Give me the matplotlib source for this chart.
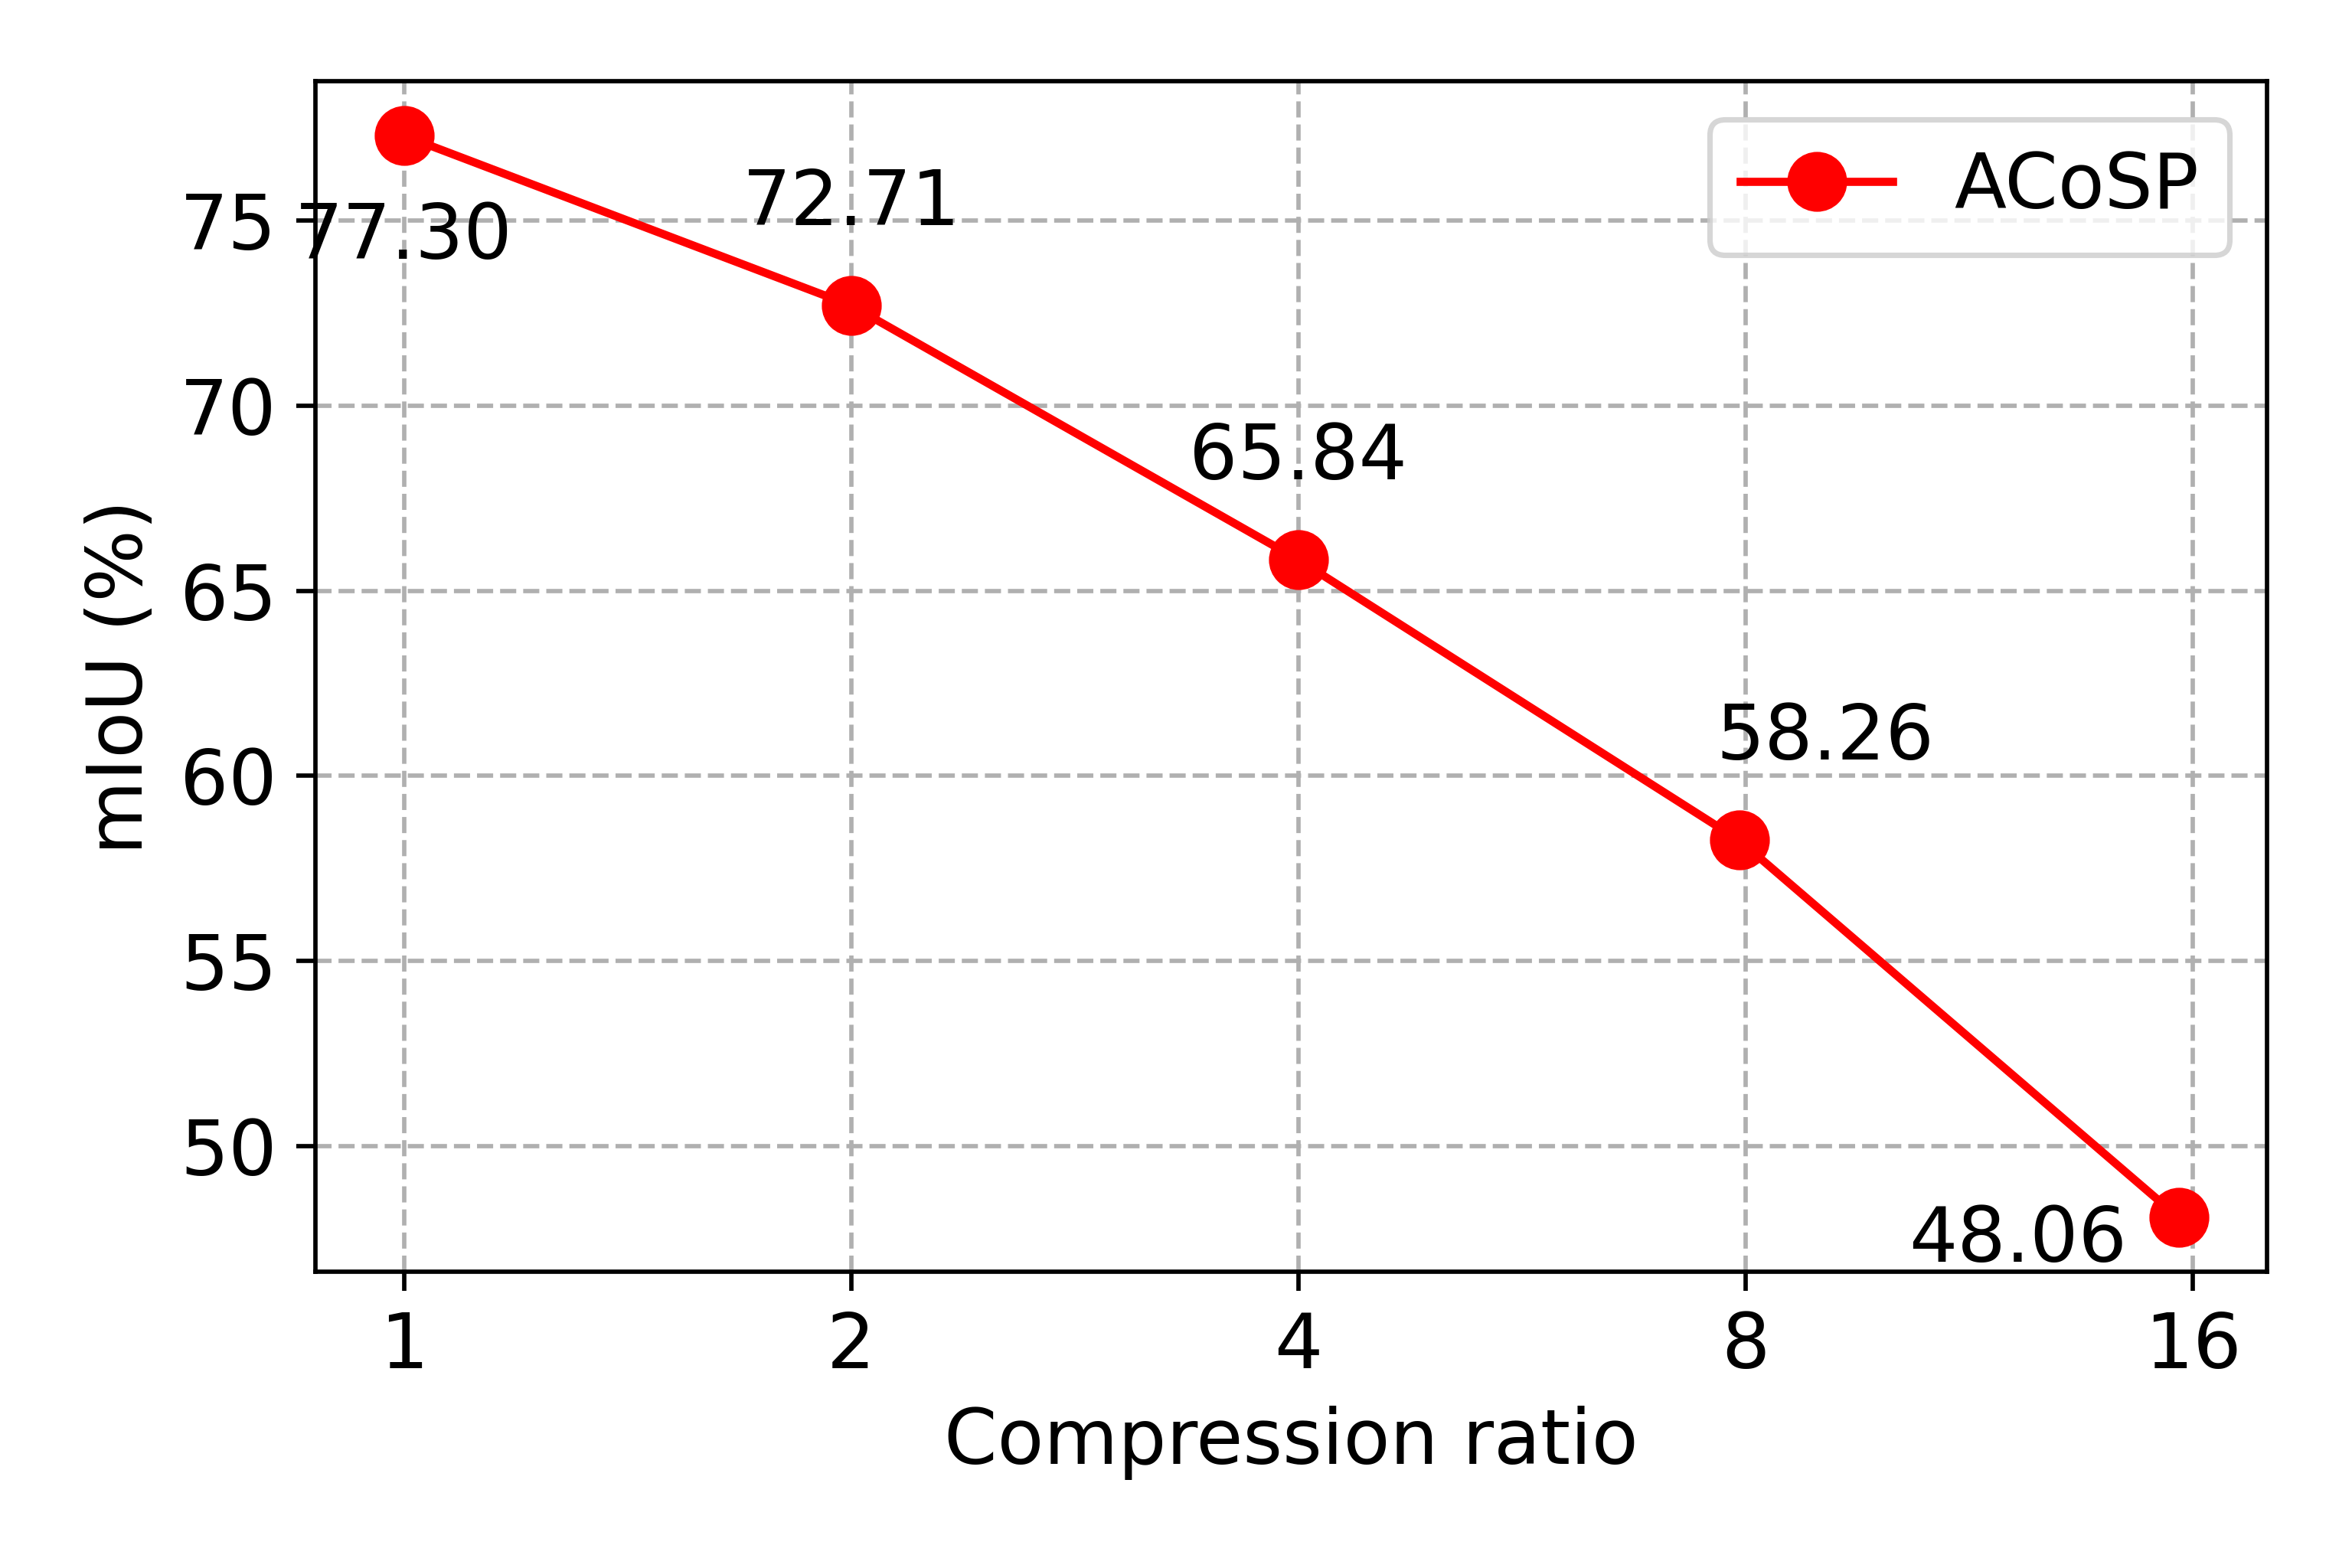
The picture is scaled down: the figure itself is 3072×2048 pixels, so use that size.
import numpy as np
import matplotlib.pyplot as plt

ratio_ticks = [1, 2, 4, 8, 16]
ratios = [1, 2, 4, 7.92, 15.65]   # measured compression ratios (points sit a bit left of 8 and 16)
miou = [77.30, 72.71, 65.84, 58.26, 48.06]
# where the value labels sit
label_x = [1.0, 2, 4, 9.05, 12.2]
label_y = [74.55, 75.45, 68.58, 61.0, 47.43]

plt.rcParams['font.size'] = 14
fig, ax = plt.subplots(figsize=(6, 4), dpi=512)
ax.plot(ratios, miou, color='red', marker='o', markersize=10, linewidth=1.5, label='ACoSP')
for lx, ly, v in zip(label_x, label_y, miou):
    ax.text(lx, ly, f"{v:.2f}", ha='center', va='center')

ax.set_xscale('log', base=2)
ax.set_xticks(ratio_ticks)
ax.set_xticklabels([str(r) for r in ratio_ticks])
ax.minorticks_off()
ax.set_yticks([50, 55, 60, 65, 70, 75])
ax.set_xlabel("Compression ratio")
ax.set_ylabel("mIoU (%)")
ax.grid(True, linestyle='--', color='#b0b0b0')
ax.legend(loc='upper right')
fig.subplots_adjust(left=0.134, right=0.964, top=0.948, bottom=0.189)
fig.savefig("out.png")
